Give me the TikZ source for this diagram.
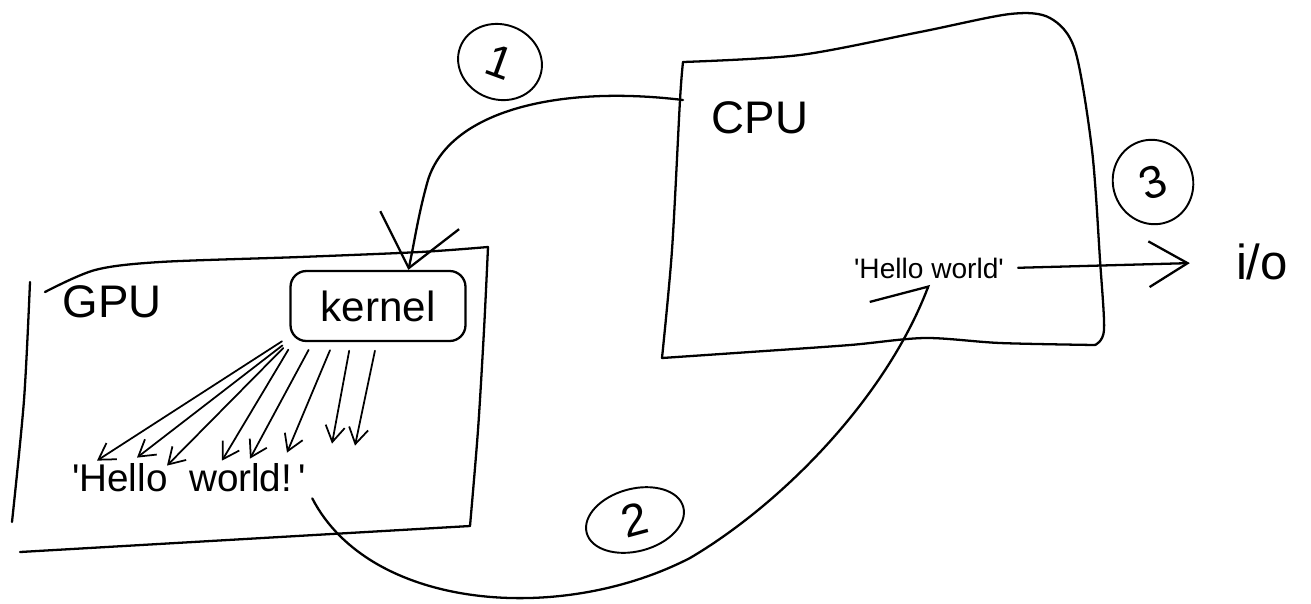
\documentclass[tikz,border=0pt]{standalone}
\usepackage{fontspec}
\setmainfont{Liberation Sans}
\usetikzlibrary{arrows.meta,shapes.geometric}

\tikzset{
  sketch/.style={line width=1.3pt, line cap=round, line join=round},
  stepmark/.style={draw, ellipse, line width=1.1pt, inner sep=0pt, font=\fontsize{26}{30}\selectfont},
  fan/.style={line width=1pt, line cap=round, -{Straight Barb[length=9pt,width=11pt]}},
}

\begin{document}
\begin{tikzpicture}[x=0.02cm,y=-0.02cm]
\useasboundingbox (0,0) rectangle (1311,603);

% GPU
\draw[sketch] plot[smooth] coordinates {(30,282) (24,400) (12,522)};
\draw[sketch] plot[smooth] coordinates {(45,292) (95,270) (160,262) (300,257) (420,252) (488,247)};
\draw[sketch] plot[smooth] coordinates {(488,247) (484,330) (478,430) (470,526)};
\draw[sketch] (470,526) -- (20,552);
\node[font=\fontsize{26}{30}\selectfont] (gpu) at (112,302) {GPU};
\node[draw, sketch, rounded corners=9pt, minimum width=3.5cm, minimum height=1.4cm,
      font=\fontsize{24}{28}\selectfont] (kernel) at (378,306) {kernel};
\node[font=\fontsize{22}{26}\selectfont, anchor=west] (hello) at (66,478)
  {\textquotesingle Hello\ \ world!\,\textquotesingle};

% CPU
\draw[sketch] plot[smooth] coordinates {(683,62) (800,55) (920,32) (1010,14) (1050,18)
  (1075,50) (1092,150) (1100,260) (1104,330) (1095,345)};
\draw[sketch] plot[smooth] coordinates {(1095,345) (1000,343) (925,338) (850,345) (750,352) (662,358)};
\draw[sketch] plot[smooth] coordinates {(662,358) (672,250) (680,100) (683,62)};
\node[font=\fontsize{26}{30}\selectfont] (cpu) at (760,118) {CPU};
\node[font=\fontsize{16}{20}\selectfont] (cpuhello) at (929,268)
  {\textquotesingle Hello world\textquotesingle};
\node[font=\fontsize{28}{32}\selectfont] (io) at (1262,262) {i/o};
\coordinate (cpuin) at (683,100);

% steps
\node[stepmark, minimum width=1.7cm, minimum height=1.5cm, rotate=-20] (s1) at (500,62) {1};
\node[stepmark, minimum width=2cm, minimum height=1.25cm, rotate=15] (s2) at (635,520) {2};
\node[stepmark, minimum width=1.6cm, minimum height=1.7cm, rotate=20] (s3) at (1153,182) {3};

% 1: launch
\draw[sketch, -{Straight Barb[length=28pt,width=46pt]}] (cpuin)
  .. controls (560,85) and (450,110) .. (428,180)
  .. controls (418,215) and (414,245) .. (kernel.50);

% threads
\foreach \a/\dx/\dy in {199/31/3, 201/71/0, 202/101/8, 203/156/3, 209/184/1, 219/221/-5, 233/266/-14, 268/289/-12}
  \draw[fan, shorten <=5pt] (kernel.\a) -- ([xshift=\dx*0.02cm, yshift=-\dy*0.02cm]hello.north west);

% 2: copy back
\draw[sketch, -{Straight Barb[harpoon,length=20pt,width=56pt]}] (hello.south east)
  .. controls (370,610) and (560,625) .. (690,558)
  .. controls (780,505) and (885,400) .. (cpuhello.south);

% 3: print
\draw[sketch, shorten <=8*0.02cm, shorten >=40*0.02cm, -{Straight Barb[length=22pt,width=26pt]}] (cpuhello.east) -- (io.west);
\end{tikzpicture}
\end{document}
